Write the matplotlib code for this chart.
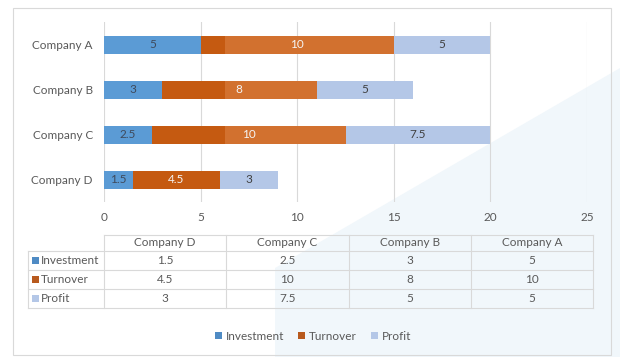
import matplotlib
matplotlib.use('Agg')
import matplotlib.pyplot as plt
from matplotlib.patches import Rectangle, Polygon, Patch
from matplotlib.lines import Line2D

# data (Excel order: bottom to top)
companies = ['Company D', 'Company C', 'Company B', 'Company A']
investment = [1.5, 2.5, 3, 5]
turnover = [4.5, 10, 8, 10]
profit = [3, 7.5, 5, 5]
series_names = ['Investment', 'Turnover', 'Profit']
x_ticks = [0, 5, 10, 15, 20, 25]

c_inv = '#5B9BD5'
c_turn = '#C55A11'
c_turn_light = '#D2712F'
c_prof = '#B4C7E7'
c_text = '#595959'
c_grid = '#D9D9D9'

plt.rcParams['font.family'] = ['Lato', 'DejaVu Sans']

W, H = 620, 357
fig = plt.figure(figsize=(W / 100, H / 100), dpi=100)


def fx(x):
    return x / W


def fy(y):
    return 1 - y / H


# faint watermark in the background
wm = Polygon([(fx(275), fy(357)), (fx(275), fy(268)), (fx(620), fy(68)), (fx(620), fy(357))],
             closed=True, transform=fig.transFigure, facecolor='#F1F7FB', edgecolor='none', zorder=-5)
fig.patches.append(wm)

# chart border
fig.patches.append(Rectangle((fx(13), fy(355)), fx(611) - fx(13), fy(8) - fy(355),
                             transform=fig.transFigure, fill=False, edgecolor=c_grid, linewidth=0.8, zorder=-4))

ax_left, ax_right, ax_top, ax_bot = 104, 587, 22, 202
ax = fig.add_axes([fx(ax_left), fy(ax_bot), fx(ax_right) - fx(ax_left), fy(ax_top) - fy(ax_bot)])
ax.set_facecolor('none')

y = list(range(len(companies)))
h = 0.4
left2 = [a for a in investment]
left3 = [a + b for a, b in zip(investment, turnover)]

b1 = ax.barh(y, investment, height=h, color=c_inv, zorder=2)
b2 = ax.barh(y, turnover, left=left2, height=h, color=c_turn, zorder=2)
# the scan has a lighter band on the turnover bars
b2l = ax.barh(y, turnover, left=left2, height=h, color=c_turn_light, zorder=2.1)
clip = Rectangle((6.27, -1), 30, 10, transform=ax.transData)
for p in b2l:
    p.set_clip_path(clip)
b3 = ax.barh(y, profit, left=left3, height=h, color=c_prof, zorder=2)

ax.bar_label(b1, labels=[f'{v:g}' for v in investment], label_type='center', color='#3F4A5C', fontsize=8.5, zorder=5)
ax.bar_label(b2, labels=[f'{v:g}' for v in turnover], label_type='center', color='#F4F4F4', fontsize=8.5, zorder=5)
ax.bar_label(b3, labels=[f'{v:g}' for v in profit], label_type='center', color='#404040', fontsize=8.5, zorder=5)

ax.set_xlim(0, 25)
ax.set_ylim(-0.5, len(companies) - 0.5)
ax.set_xticks(x_ticks)
ax.set_yticks(y)
ax.set_yticklabels(companies)
ax.tick_params(axis='both', length=0, labelsize=8.5, labelcolor=c_text)
ax.tick_params(axis='x', pad=7)
ax.tick_params(axis='y', pad=8)
ax.grid(axis='x', color=c_grid, linewidth=0.8, zorder=0)
ax.set_axisbelow(True)
for s in ax.spines.values():
    s.set_visible(False)

# data table below the axis
t_left, t_lab, t_right = 28, 104, 593
row_lines = [235, 251, 270, 289, 308]
ncol = len(companies)
col_w = (t_right - t_lab) / ncol
col_edges = [t_lab + i * col_w for i in range(ncol + 1)]
lw = 0.8


def hline(yy, x0, x1):
    fig.add_artist(Line2D([fx(x0), fx(x1)], [fy(yy), fy(yy)], color=c_grid, linewidth=lw))


def vline(xx, y0, y1):
    fig.add_artist(Line2D([fx(xx), fx(xx)], [fy(y0), fy(y1)], color=c_grid, linewidth=lw))


hline(row_lines[0], t_lab, t_right)
for yy in row_lines[1:]:
    hline(yy, t_left, t_right)
vline(t_left, row_lines[1], row_lines[-1])
for xx in col_edges:
    vline(xx, row_lines[0], row_lines[-1])

for i, name in enumerate(companies):
    cx = (col_edges[i] + col_edges[i + 1]) / 2
    cy = (row_lines[0] + row_lines[1]) / 2
    fig.text(fx(cx), fy(cy), name, ha='center', va='center', fontsize=8.5, color=c_text)

table_rows = [investment, turnover, profit]
key_colors = ['#4F8BC4', '#B85A1E', '#B4C7E7']
for r, (name, vals, kc) in enumerate(zip(series_names, table_rows, key_colors)):
    cy = (row_lines[r + 1] + row_lines[r + 2]) / 2
    fig.patches.append(Rectangle((fx(32), fy(cy + 3.5)), fx(7), fy(0) - fy(7),
                                 transform=fig.transFigure, facecolor=kc, edgecolor='none'))
    fig.text(fx(41), fy(cy), name, ha='left', va='center', fontsize=8.5, color=c_text)
    for i, v in enumerate(vals):
        cx = (col_edges[i] + col_edges[i + 1]) / 2
        fig.text(fx(cx), fy(cy), f'{v:g}', ha='center', va='center', fontsize=8.5, color=c_text)

# legend
handles = [Patch(facecolor=c, edgecolor='none') for c in key_colors]
fig.legend(handles, series_names, loc='center', bbox_to_anchor=(fx(313), fy(336)), ncol=3,
           frameon=False, fontsize=8.5, labelcolor=c_text, handlelength=0.6, handleheight=0.6,
           handletextpad=0.3, columnspacing=1.2)

fig.savefig('out.png', dpi=100)
